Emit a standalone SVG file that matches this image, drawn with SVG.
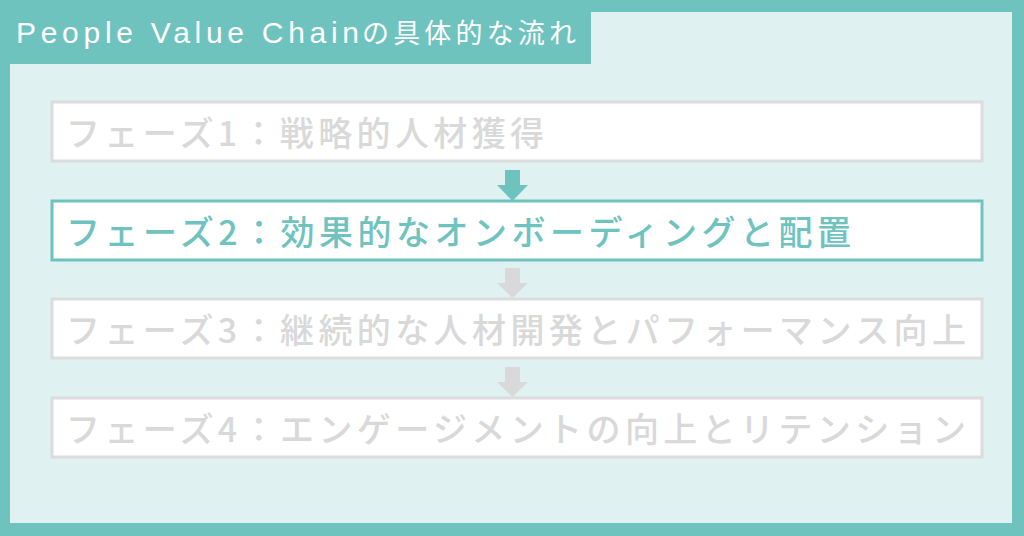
<svg xmlns="http://www.w3.org/2000/svg" width="1024" height="536" viewBox="0 0 1024 536">
<style>
.t{font-family:"Noto Sans CJK JP","Noto Sans",sans-serif;font-size:34px;font-weight:500}
.g{fill:#d9d9d9}
.box{fill:#ffffff;stroke:#dcdcdc;stroke-width:3}
.hl{fill:#ffffff;stroke:#6fc3bf;stroke-width:3}
.ttl{fill:#ffffff}
</style>
<rect x="0" y="0" width="1024" height="536" fill="#6fc3bf"/>
<rect x="10" y="12" width="1002" height="511" fill="#dff1f0"/>
<rect x="0" y="0" width="591" height="64" fill="#6fc3bf"/>
<g id="title">
<text class="ttl" x="16" y="43" font-size="30" font-family="Liberation Sans,Arial,sans-serif" textLength="343" lengthAdjust="spacing">People Value Chain</text>
<text class="ttl" x="362" y="43" font-size="27" font-family="Noto Sans CJK JP,sans-serif" font-weight="400" textLength="214" lengthAdjust="spacing">の具体的な流れ</text>
</g>
<g id="connectors">
<path d="M505 170h15v15h8l-15.5 16l-15.5-16h8z" fill="#6fc3bf"/>
<path d="M505 268h15v15h8l-15.5 15l-15.5-15h8z" fill="#d9d9d9"/>
<path d="M505 367h15v15h8l-15.5 15l-15.5-15h8z" fill="#d9d9d9"/>
</g>
<g id="phase1">
<rect class="box" x="52" y="102" width="930" height="59"/>
<text class="t g" x="66" y="146" textLength="478" lengthAdjust="spacing">フェーズ1：戦略的人材獲得</text>
</g>
<g id="phase2">
<rect class="hl" x="52" y="201" width="930" height="59"/>
<text class="t" x="66" y="245" fill="#6fc3bf" textLength="785" lengthAdjust="spacing">フェーズ2：効果的なオンボーディングと配置</text>
</g>
<g id="phase3">
<rect class="box" x="52" y="299" width="930" height="59"/>
<text class="t g" x="66" y="343" textLength="900" lengthAdjust="spacing">フェーズ3：継続的な人材開発とパフォーマンス向上</text>
</g>
<g id="phase4">
<rect class="box" x="52" y="398" width="930" height="59"/>
<text class="t g" x="66" y="442" textLength="900" lengthAdjust="spacing">フェーズ4：エンゲージメントの向上とリテンション</text>
</g>
</svg>
